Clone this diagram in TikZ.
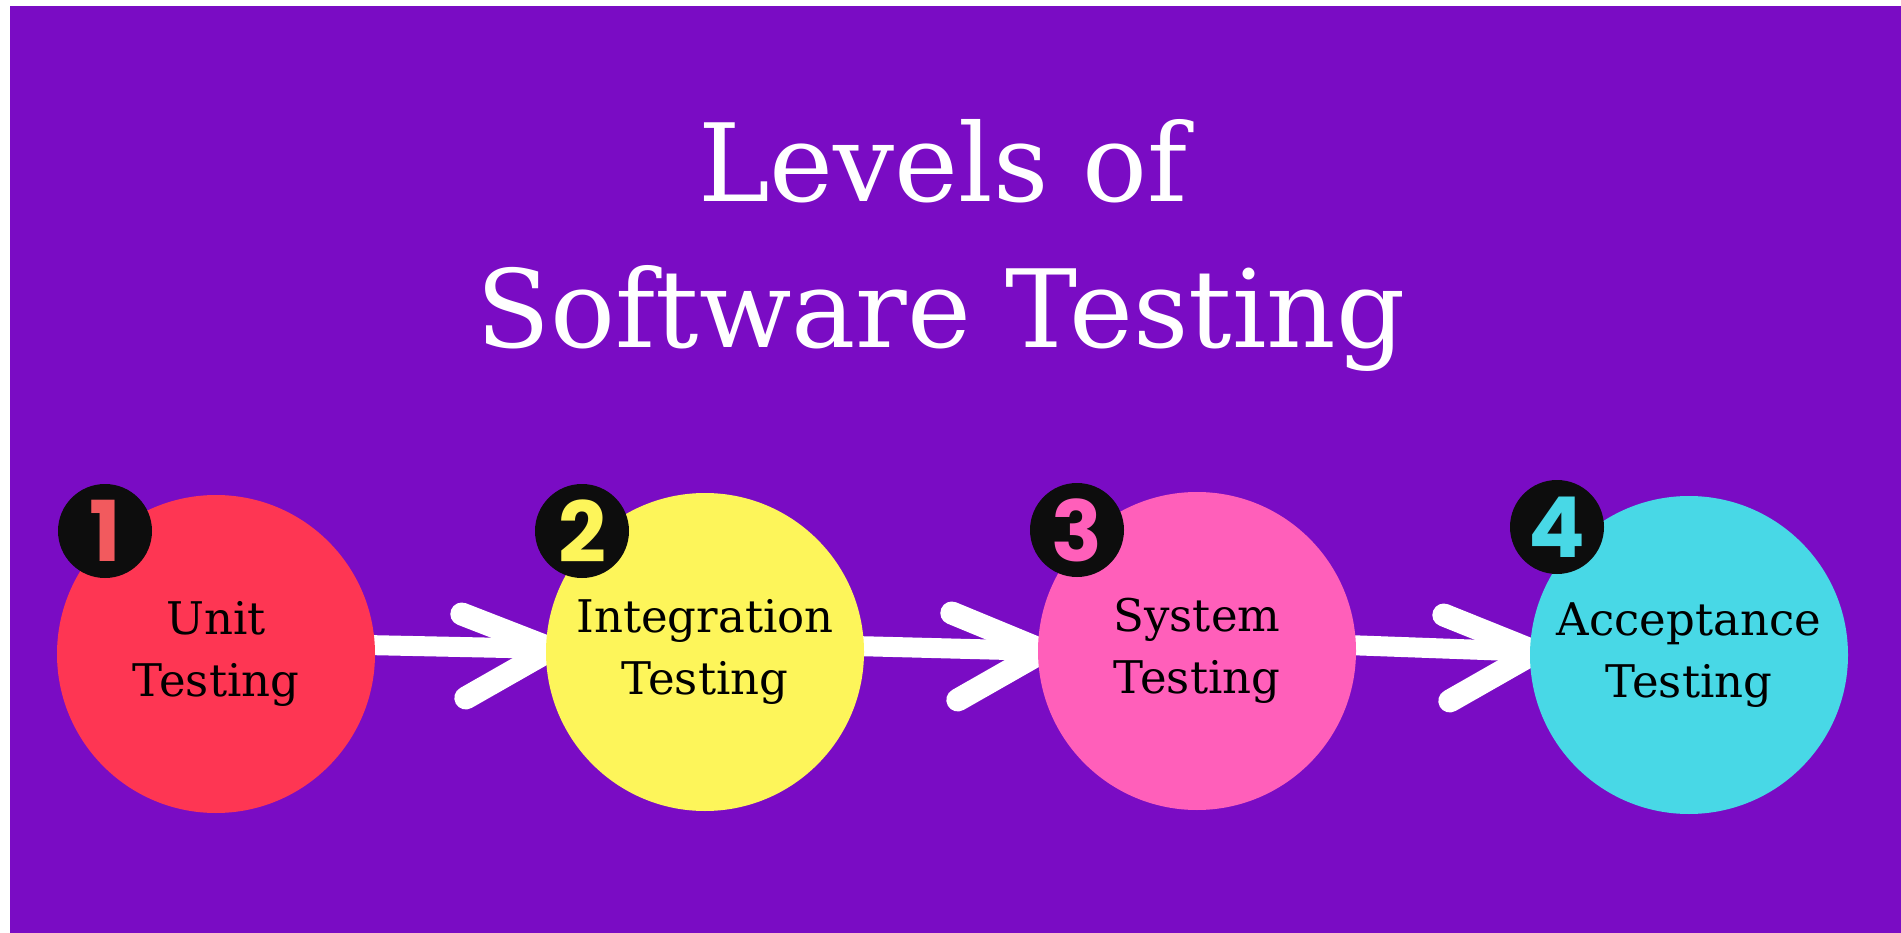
\documentclass[tikz,border=0pt]{standalone}
\usepackage{fontspec}
\setmainfont{DejaVu Serif}
\newfontfamily\digitfont{Poppins}
\usetikzlibrary{calc}
\pgfdeclarelayer{bg}
\pgfdeclarelayer{arr}
\pgfsetlayers{bg,arr,main}
\definecolor{bgpurple}{HTML}{7A0CC4}
\definecolor{cred}{HTML}{FE3653}
\definecolor{cyellow}{HTML}{FDF55A}
\definecolor{cpink}{HTML}{FF5FBA}
\definecolor{ccyan}{HTML}{48D8E6}
\definecolor{dred}{HTML}{F25A5E}
\begin{document}
\begin{tikzpicture}[x=1pt,y=-1pt,
  level/.style={circle, minimum size=318pt, inner sep=0pt, align=center,
    font=\fontsize{45}{62}\selectfont, text=black},
  badge/.style={circle, fill=black!95, minimum size=94pt, inner sep=0pt,
    font=\digitfont\bfseries\fontsize{84}{84}\selectfont},
  shaft/.style={draw=white, line width=20pt, line cap=round},
  barb/.style={draw=white, line width=23pt, line cap=round, line join=round},
  title/.style={text=white, font=\fontsize{108}{108}\selectfont, anchor=base, inner sep=0pt}]
\useasboundingbox (0,0) rectangle (1901,933);
\begin{pgfonlayer}{bg}
\fill[white] (0,0) rectangle (1901,933);
\fill[bgpurple] (10,6) rectangle (1901,933);
\end{pgfonlayer}

\node[title] (t1) at (943,202) {Levels of};
\node[title] (t2) at (941,348) {Software Testing};

\node[level, fill=cred]    (c1) at (216,654) {Unit\\Testing};
\node[level, fill=cyellow] (c2) at (705,652) {Integration\\Testing};
\node[level, fill=cpink]   (c3) at (1197,651) {System\\Testing};
\node[level, fill=ccyan]   (c4) at (1689,655) {Acceptance\\Testing};

\node[badge, text=dred]    (b1) at (105,531) {1};
\node[badge, text=cyellow] (b2) at (582,531) {2};
\node[badge, text=cpink]   (b3) at (1077,530) {3};
\node[badge, text=ccyan]   (b4) at (1557,527) {4};

\begin{pgfonlayer}{arr}
\draw[shaft] ($(c1.east)+(-10,-9)$) -- ($(c2.west)+(10,-3)$);
\draw[barb] ($(c2.west)+(-84,-38)$) -- ($(c2.west)+(6,-3)$) -- ($(c2.west)+(-80,46)$);
\draw[shaft] ($(c2.east)+(-10,-6)$) -- ($(c3.west)+(10,0)$);
\draw[barb] ($(c3.west)+(-86,-38)$) -- ($(c3.west)+(6,0)$) -- ($(c3.west)+(-80,49)$);
\draw[shaft] ($(c3.east)+(-10,-6)$) -- ($(c4.west)+(10,-3)$);
\draw[barb] ($(c4.west)+(-86,-40)$) -- ($(c4.west)+(6,-3)$) -- ($(c4.west)+(-80,46)$);
\end{pgfonlayer}
\end{tikzpicture}
\end{document}
